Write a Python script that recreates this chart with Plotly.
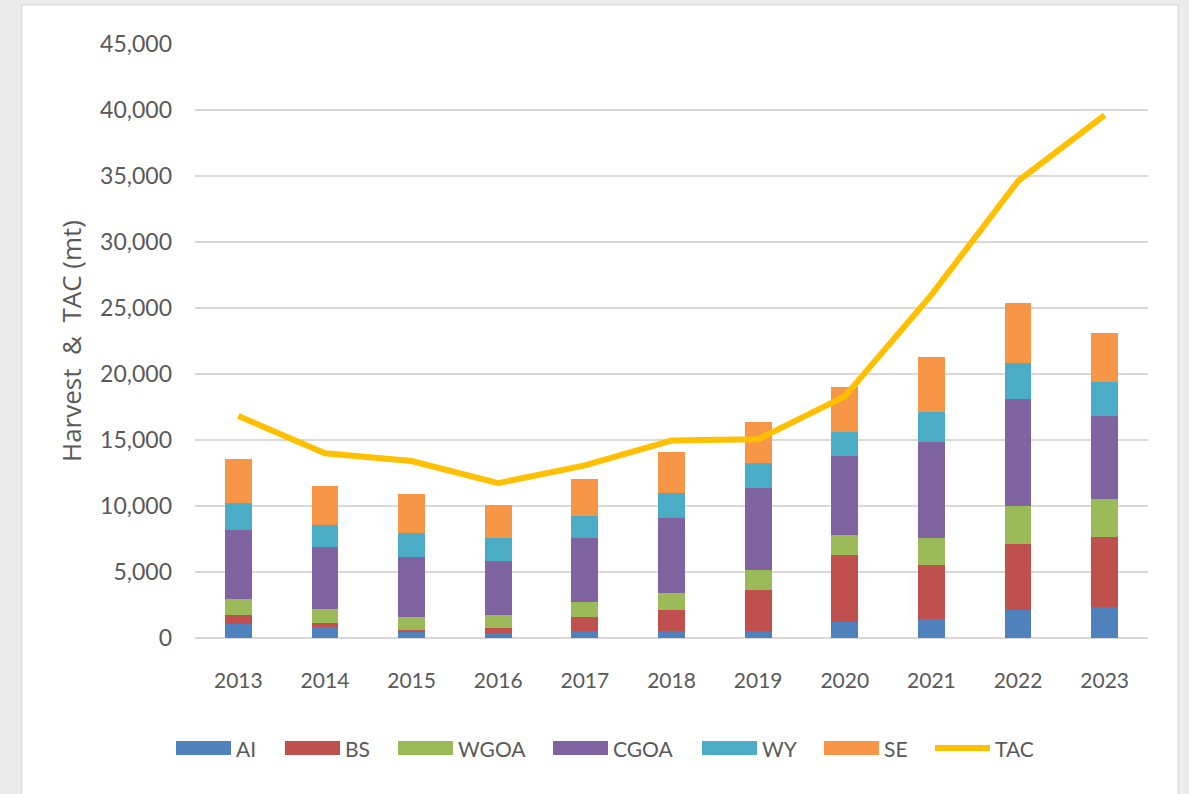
import plotly.graph_objects as go

years = ['2013', '2014', '2015', '2016', '2017', '2018', '2019', '2020', '2021', '2022', '2023']

ai = [1040, 810, 430, 355, 555, 555, 555, 1240, 1440, 2120, 2370]
bs = [700, 300, 175, 380, 1015, 1565, 3085, 5050, 4090, 4980, 5305]
wgoa = [1210, 1110, 1010, 1005, 1180, 1270, 1510, 1510, 2070, 2900, 2835]
cgoa = [5230, 4700, 4545, 4120, 4800, 5680, 6240, 5990, 7230, 8110, 6330]
wy = [2070, 1640, 1770, 1740, 1690, 1940, 1845, 1790, 2270, 2700, 2580]
se = [3290, 2955, 2955, 2475, 2780, 3060, 3105, 3410, 4210, 4590, 3710]
tac = [16820, 14000, 13410, 11730, 13080, 14960, 15050, 18300, 25990, 34620, 39620]

# Office 2010 palette
series = [
    ('AI', ai, '#4F81BD'),
    ('BS', bs, '#C0504D'),
    ('WGOA', wgoa, '#9BBB59'),
    ('CGOA', cgoa, '#8064A2'),
    ('WY', wy, '#4BACC6'),
    ('SE', se, '#F79646'),
]
tac_color = '#FFC000'

W, H = 1189, 794
L, R, T, B = 195, 41, 44, 156
pw, ph = W - L - R, H - T - B


def px(x):
    return (x - L) / pw


def py(y):
    return (H - B - y) / ph


fig = go.Figure()
for name, vals, col in series:
    fig.add_trace(go.Bar(x=years, y=vals, name=name, marker_color=col,
                         marker_line_width=0))
fig.add_trace(go.Scatter(x=years, y=tac, name='TAC', mode='lines',
                         line=dict(color=tac_color, width=6)))

# white chart panel on grey page
fig.add_shape(type='rect', xref='paper', yref='paper',
              x0=px(22), x1=px(1178), y0=py(820), y1=py(5),
              fillcolor='white', line=dict(color='#d4d4d4', width=1),
              layer='below')

# hand-made legend with wide Excel-style swatches
legend_x = [176, 285, 398, 553, 702, 824]
leg_font = dict(family='Lato, sans-serif', size=21, color='#595959')
for (name, vals, col), x0 in zip(series, legend_x):
    fig.add_shape(type='rect', xref='paper', yref='paper',
                  x0=px(x0), x1=px(x0 + 55), y0=py(755), y1=py(741),
                  fillcolor=col, line=dict(width=0))
    fig.add_annotation(xref='paper', yref='paper', x=px(x0 + 58), y=py(748),
                       text=name, showarrow=False, xanchor='left', yanchor='middle',
                       font=leg_font)
fig.add_shape(type='line', xref='paper', yref='paper',
              x0=px(935), x1=px(990), y0=py(748), y1=py(748),
              line=dict(color=tac_color, width=6))
fig.add_annotation(xref='paper', yref='paper', x=px(993), y=py(748),
                   text='TAC', showarrow=False, xanchor='left', yanchor='middle',
                   font=leg_font)

fig.update_layout(
    width=W, height=H,
    margin=dict(l=L, r=R, t=T, b=B, autoexpand=False),
    paper_bgcolor='#ebebeb',
    plot_bgcolor='rgba(0,0,0,0)',
    barmode='stack',
    bargap=0.69,
    font=dict(family='Lato, sans-serif', color='#595959'),
    showlegend=False,
)
fig.update_xaxes(showgrid=False, showline=False, ticks='',
                 tickfont=dict(family='Lato, sans-serif', size=21, color='#595959'),
                 ticklabelstandoff=28)
fig.update_yaxes(range=[0, 45000], dtick=5000, tickformat=',',
                 showgrid=True, gridcolor='#d9d9d9', gridwidth=2,
                 zeroline=True, zerolinecolor='#d9d9d9', zerolinewidth=2,
                 showline=False, ticks='', ticklabelstandoff=22,
                 tickfont=dict(family='Lato, sans-serif', size=23, color='#595959'),
                 title=dict(text='Harvest\u00a0 &\u00a0 TAC (mt)', standoff=10,
                            font=dict(family='Open Sans, sans-serif', size=26,
                                      color='#595959')))

fig.write_html('out.html', config={'displayModeBar': False},
               post_script="document.body.style.margin='0';")
